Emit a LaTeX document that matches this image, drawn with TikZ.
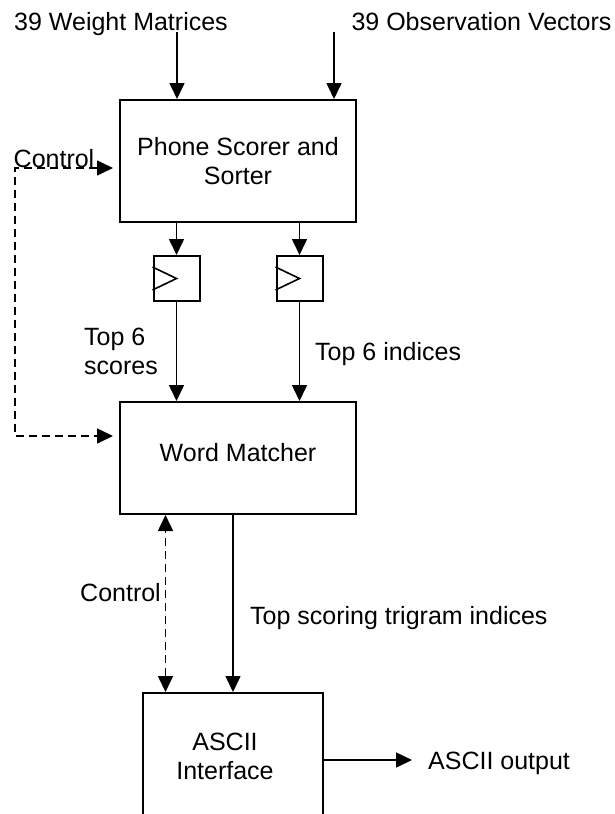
\documentclass[tikz,border=0pt]{standalone}
\usepackage{fontspec}
\setmainfont{Liberation Sans}
\usetikzlibrary{arrows.meta}
\begin{document}
\begin{tikzpicture}[x=1pt,y=-1pt,
  every node/.style={font=\fontsize{25}{29}\selectfont},
  box/.style={draw, line width=2pt, inner sep=0pt, align=center},
  regbox/.style={draw, line width=2pt, inner sep=0pt, minimum width=46pt, minimum height=45pt},
  lbl/.style={inner sep=0pt, text height=18pt, text depth=0pt},
  tip/.style={Triangle[width=15pt,length=16pt]},
  arr/.style={line width=1.6pt, -{Triangle[width=15pt,length=16pt]}},
  ctl/.style={line width=1.6pt, dash pattern=on 8pt off 5pt,
              {Triangle[width=15pt,length=16pt]}-{Triangle[width=15pt,length=16pt]}}]
\useasboundingbox (0,0) rectangle (615,814);

% boxes
\node[box, minimum width=236pt, minimum height=122pt] (phone) at (238,161) {Phone Scorer and\\Sorter};
\node[regbox] (r1) at (176.5,278.5) {};
\node[regbox] (r2) at (299.5,278.5) {};
\draw[line width=1.6pt] ([yshift=11.5pt]r1.west) -- ++(24pt,-11.5pt) -- ++(-24pt,-11.5pt);
\draw[line width=1.6pt] ([yshift=11.5pt]r2.west) -- ++(24pt,-11.5pt) -- ++(-24pt,-11.5pt);
\node[box, minimum width=236pt, minimum height=112pt, text height=18pt, text depth=11pt] (word) at (238,458) {Word Matcher};
\node[box, minimum width=180pt, minimum height=127pt] (ascii) at (233,756.5) {ASCII\hspace*{16pt}\\Interface\hspace*{16pt}};

% labels
\node[lbl] (wm) at (121,21.5) {39 Weight Matrices};
\node[lbl] (ov) at (481.5,21.5) {39 Observation Vectors};
\node[lbl] (ctl1) at (54,158) {Control};
\node[inner sep=0pt, align=left, anchor=north west] (sc) at (84,328) {Top 6\\scores};
\node[lbl, anchor=west] (idx) at (315,351) {Top 6 indices};
\node[lbl] (ctl2) at (120.5,592) {Control};
\node[lbl, anchor=west] (tri) at (250,615) {Top scoring trigram indices};
\node[lbl, anchor=west] (out) at (428,760) {ASCII output};

% connectors
\coordinate (wmin) at (177,32);
\coordinate (ovin) at (334,32);
\draw[arr] (wmin) -- (wmin |- phone.north);
\draw[arr] (ovin) -- (ovin |- phone.north);
\draw[arr] (r1.north |- phone.south) -- (r1.north);
\draw[arr] (r2.north |- phone.south) -- (r2.north);
\draw[arr] (r1.south) -- (r1.south |- word.north);
\draw[arr] (r2.south) -- (r2.south |- word.north);
\coordinate (cc) at (15,300);
\draw[ctl, shorten <=6pt, shorten >=6pt] ([yshift=-7pt]phone.west) -| (cc) |- ([yshift=22pt]word.west);
\draw[arr] (word.south -| ascii.north) -- (ascii.north);
\coordinate (dx) at (165.5,600);
\draw[ctl] (ascii.north -| dx) -- (word.south -| dx);
\draw[arr] (ascii.east |- out.west) -- ([xshift=-16pt]out.west);
\end{tikzpicture}
\end{document}
